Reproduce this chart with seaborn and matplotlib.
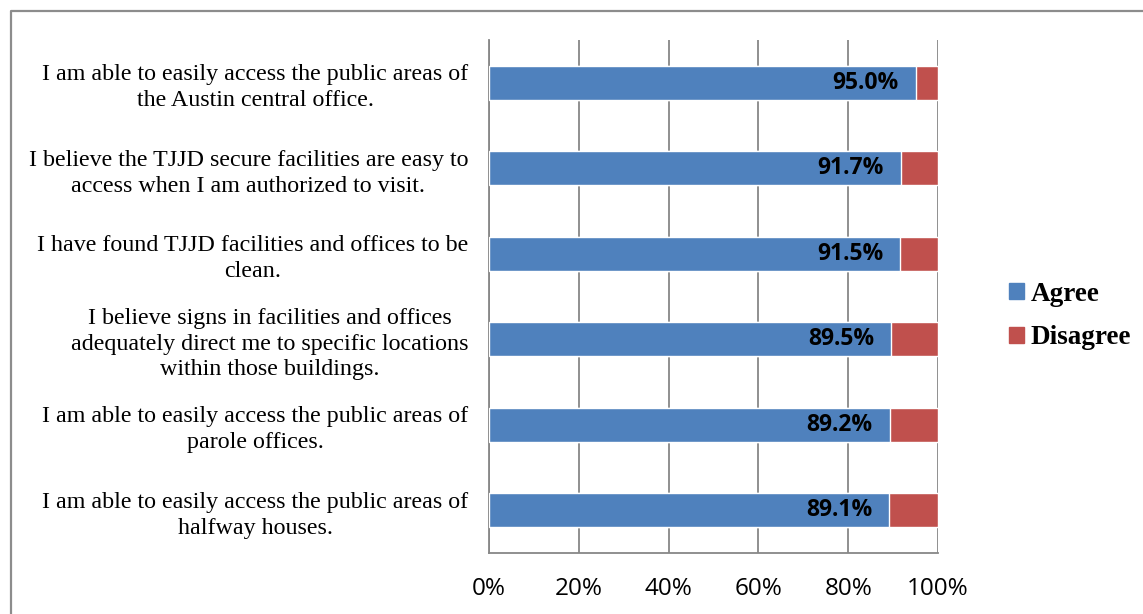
import matplotlib
matplotlib.use("Agg")
import matplotlib.pyplot as plt
import matplotlib.lines as mlines
from matplotlib.patches import Patch
import pandas as pd
import seaborn as sns

# survey statements, top to bottom
questions = [
    "I am able to easily access the public areas of\nthe Austin central office.",
    "I believe the TJJD secure facilities are easy to\naccess when I am authorized to visit.",
    "I have found TJJD facilities and offices to be\nclean.",
    "I believe signs in facilities and offices\nadequately direct me to specific locations\nwithin those buildings.",
    "I am able to easily access the public areas of\nparole offices.",
    "I am able to easily access the public areas of\nhalfway houses.",
]
agree = [95.0, 91.7, 91.5, 89.5, 89.2, 89.1]
disagree = [5.0, 8.3, 8.5, 10.5, 10.8, 10.9]
x_ticks = [0, 20, 40, 60, 80, 100]

blue = "#4F81BD"
red = "#C0504D"
grey = "#878787"

df = pd.DataFrame({"question": questions, "agree": agree, "disagree": disagree})
df["total"] = df["agree"] + df["disagree"]

sns.set_style("white")
plt.rcParams["font.family"] = ["Liberation Serif", "DejaVu Serif"]
plt.rcParams["text.color"] = "black"
plt.rcParams["xtick.labelcolor"] = "black"
plt.rcParams["ytick.labelcolor"] = "black"

fig = plt.figure(figsize=(11.43, 6.14), dpi=100)
ax = fig.add_axes([489 / 1143, 61 / 614, 449 / 1143, 513 / 614])

# stacked bars: full-length disagree underneath, agree on top
sns.barplot(data=df, x="total", y="question", color=red, width=0.4,
            orient="h", ax=ax, saturation=1, zorder=2)
sns.barplot(data=df, x="agree", y="question", color=blue, width=0.4,
            orient="h", ax=ax, saturation=1, zorder=3)

for i, v in enumerate(agree):
    ax.annotate(f"{v:.1f}%", xy=(v, i), xytext=(-12, 0), textcoords="offset points",
                ha="right", va="center", fontsize=16.5, fontweight="bold",
                family="Open Sans", color="black", zorder=4)

ax.set_xlim(0, 100)
ax.set_ylim(len(questions) - 0.5, -0.5)
ax.set_xticks(x_ticks)
ax.set_xticklabels([f"{t}%" for t in x_ticks], family="Open Sans", fontsize=17.5)
ax.set_xlabel("")
ax.set_ylabel("")

ax.set_yticks(range(len(questions)))
ax.set_yticklabels(questions, fontsize=17.3, multialignment="center", linespacing=1.3)
ax.set_yticks([b - 0.5 for b in range(len(questions) + 1)], minor=True)
ax.tick_params(axis="y", which="major", length=0, pad=15)
ax.tick_params(axis="y", which="minor", length=4.5, width=1.3, color=grey)
ax.tick_params(axis="x", which="major", length=3.5, width=1.3, color=grey, pad=14)

ax.grid(axis="x", color=grey, linewidth=1.3, zorder=0)
ax.set_axisbelow(True)
for side in ["top", "right"]:
    ax.spines[side].set_visible(False)
for side in ["left", "bottom"]:
    ax.spines[side].set_color(grey)
    ax.spines[side].set_linewidth(1.3)

handles = [Patch(facecolor=blue, edgecolor=blue), Patch(facecolor=red, edgecolor=red)]
fig.legend(handles, ["Agree", "Disagree"], loc="center left",
           bbox_to_anchor=(1009 / 1143, 1 - 316 / 614), frameon=False,
           prop={"family": "Liberation Serif", "weight": "bold", "size": 19.5},
           handlelength=0.55, handleheight=0.55, handletextpad=0.25,
           labelspacing=0.7, borderpad=0, borderaxespad=0)

# outer frame (top and left edges visible)
fx = 11 / 1143
fy = 1 - 11 / 614
fig.add_artist(mlines.Line2D([fx, fx, 1], [0, fy, fy], transform=fig.transFigure,
                             color="#8c8c8c", linewidth=1.6))

fig.savefig("out.png", dpi=100, facecolor="white")
